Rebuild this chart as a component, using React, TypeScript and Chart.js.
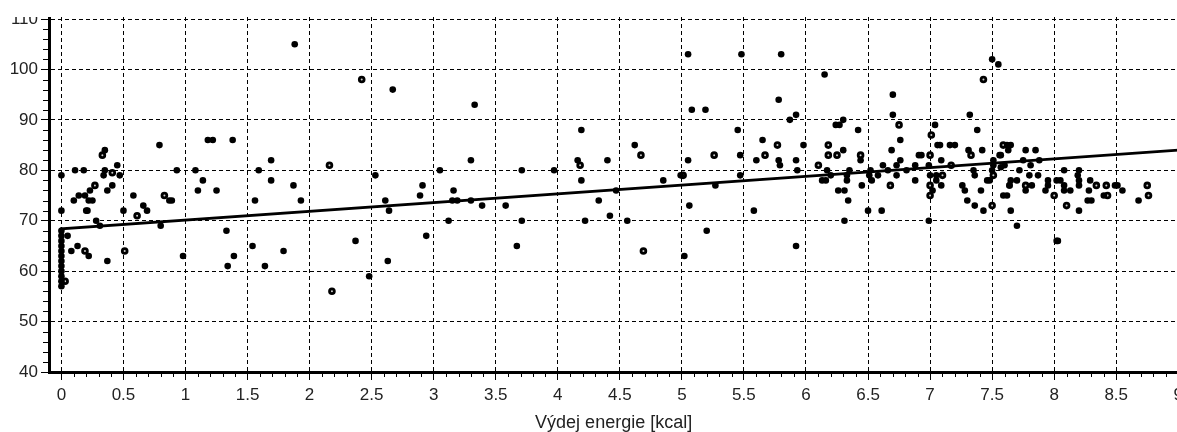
import React, { useEffect, useRef } from "react";
import { Chart, registerables } from "chart.js";

Chart.register(...registerables);

const xTickValues = [0, 0.5, 1, 1.5, 2, 2.5, 3, 3.5, 4, 4.5, 5, 5.5, 6, 6.5, 7, 7.5, 8, 8.5, 9];
const yTickValues = [40, 50, 60, 70, 80, 90, 100, 110];
const xTitle = "Výdej energie [kcal]";

const trendLine: [number, number][] = [[0, 57], [0, 68.4], [9, 84]];

const solidPoints: [number, number][] = [
  [0, 79], [0, 72], [0, 68], [0, 67], [0, 66], [0, 65], [0, 64], [0, 63], [0, 62], [0, 61], [0, 60], [0, 59], [0, 58], [0, 57],
  [0.11, 80], [0.18, 80], [0.35, 84], [0.35, 80], [0.34, 79], [0.47, 79], [0.45, 81], [0.41, 77], [0.37, 76], [0.23, 76],
  [0.19, 75], [0.14, 75], [0.1, 74], [0.22, 74], [0.25, 74], [0.2, 72], [0.21, 72], [0.28, 70], [0.31, 69], [0.5, 72],
  [0.66, 73], [0.69, 72], [0.58, 75], [0.79, 85], [0.87, 74], [0.89, 74], [0.93, 80], [1.08, 80], [1.14, 78], [1.1, 76],
  [1.25, 76], [1.18, 86], [1.22, 86], [1.38, 86], [1.59, 80], [1.69, 82], [1.69, 78], [1.56, 74], [1.87, 77], [1.93, 74],
  [0.8, 69], [1.33, 68], [1.54, 65], [1.79, 64], [1.39, 63], [1.34, 61], [1.64, 61], [0.98, 63], [0.37, 62], [0.22, 63],
  [0.13, 65], [0.08, 64], [0.05, 67],
  [1.88, 105], [2.67, 96], [3.33, 93], [2.53, 79], [3.05, 80], [3.3, 82], [3.71, 80], [3.97, 80], [4.19, 88], [4.16, 82],
  [4.19, 78], [4.33, 74], [2.91, 77], [2.89, 75], [3.16, 76], [2.61, 74], [2.64, 72], [3.15, 74], [3.19, 74], [3.39, 73],
  [3.58, 73], [3.12, 70], [3.71, 70], [4.22, 70], [2.94, 67], [2.37, 66], [3.67, 65], [2.63, 62], [2.48, 59],
  [5.05, 103], [5.48, 103], [5.8, 103], [6.15, 99], [5.78, 94], [5.08, 92], [5.19, 92], [5.92, 91], [5.87, 90], [6.24, 89],
  [5.45, 88], [5.65, 86], [4.62, 85], [5.98, 85], [5.47, 83], [4.4, 82], [5.05, 82], [5.6, 82], [5.78, 82], [5.92, 82],
  [5.79, 81], [5.93, 80], [6.17, 80], [5.47, 79], [4.85, 78], [5.27, 77], [4.47, 76], [6.31, 76], [6.13, 78], [6.16, 78],
  [5.06, 73], [5.58, 72], [4.42, 71], [4.56, 70], [5.2, 68], [5.92, 65], [5.02, 63], [4.99, 79], [3.3, 74],
  [7.5, 102], [7.55, 101], [6.7, 95], [6.7, 91], [6.3, 90], [6.27, 89], [7.04, 89], [6.42, 88], [7.32, 91], [7.38, 88],
  [6.76, 86], [7.06, 85], [7.08, 85], [7.16, 85], [7.2, 85], [7.62, 85], [6.3, 84], [6.44, 82], [6.69, 84], [6.91, 83],
  [6.93, 83], [7.31, 84], [7.42, 84], [7.57, 83], [6.76, 82], [7.09, 82], [7.51, 82], [6.62, 81], [6.73, 81], [6.88, 81],
  [6.99, 81], [7.6, 81], [6.35, 80], [6.52, 80], [6.66, 80], [6.81, 80], [7.35, 80], [7.5, 80], [6.33, 79], [6.51, 79],
  [6.58, 79], [6.73, 79], [7, 79], [7.05, 79], [7.36, 79], [6.2, 79], [6.33, 78], [6.53, 78], [6.88, 78], [7.05, 78],
  [7.46, 78], [7.48, 78], [6.45, 77], [6.26, 76], [7.09, 77], [7.26, 77], [7.64, 77], [7.02, 76], [7.28, 76], [7.41, 76],
  [7.59, 75], [7.62, 75], [6.34, 74], [7.3, 74], [7.36, 73], [6.5, 72], [6.61, 72], [7.43, 72], [7.65, 72], [6.31, 70], [6.99, 70],
  [7.65, 85], [7.63, 84], [7.77, 84], [7.85, 84], [7.56, 83], [7.75, 82], [7.88, 82], [7.51, 81], [7.57, 80.6], [7.72, 80],
  [7.81, 81], [8.08, 80], [8.2, 80], [7.8, 79], [7.87, 79], [8.19, 79], [8.2, 78], [7.65, 78], [7.7, 78], [7.95, 78],
  [8.02, 78], [8.05, 78], [8.29, 78], [7.64, 77], [7.82, 77], [7.95, 77], [8.08, 77], [8.2, 77], [8.49, 77], [8.51, 77],
  [7.77, 76], [7.93, 76], [8.08, 76], [8.13, 76], [8.28, 76], [8.55, 76], [8.4, 75], [8.27, 74], [8.3, 74], [8.68, 74],
  [8.2, 72], [7.7, 69], [8.03, 66], [8.02, 66],
];

const ringedPoints: [number, number][] = [
  [0.33, 83], [0.41, 79.5], [0.27, 77], [0.61, 71], [0.83, 75], [0.51, 64], [0.19, 64], [0.03, 58],
  [2.42, 98], [2.16, 81], [4.18, 81], [2.18, 56],
  [4.67, 83], [5.77, 85], [6.18, 85], [6.18, 83], [6.25, 83], [5.26, 83], [5.67, 83], [6.1, 81], [5.01, 79], [4.69, 64],
  [7.43, 98], [6.75, 89], [7.01, 87], [7.59, 85], [6.44, 83], [7, 83], [7.33, 83], [7.17, 81], [7.1, 79], [7.51, 79],
  [6.68, 77], [7, 77], [7, 75],
  [7.77, 77], [8.34, 77], [8.42, 77], [8.75, 77], [8, 75], [8.43, 75], [8.76, 75], [8.1, 73], [7.5, 73],
];

const toXY = (rows: [number, number][]) => rows.map(([x, y]) => ({ x, y }));

const axisExtras = {
  id: "axisExtras",
  afterDatasetsDraw(chart: any) {
    const { ctx, scales, chartArea } = chart;
    ctx.save();
    ctx.strokeStyle = "#000";
    ctx.lineWidth = 1;
    ctx.beginPath();
    for (let i = 0; i < xTickValues.length - 1; i++) {
      for (let k = 1; k < 5; k++) {
        const px = Math.round(scales.x.getPixelForValue(xTickValues[i] + (k * 0.5) / 5)) + 0.5;
        ctx.moveTo(px, chartArea.bottom);
        ctx.lineTo(px, chartArea.bottom + 5);
      }
    }
    for (let i = 0; i < yTickValues.length - 1; i++) {
      for (let k = 1; k < 5; k++) {
        const py = Math.round(scales.y.getPixelForValue(yTickValues[i] + k * 2)) + 0.5;
        ctx.moveTo(chartArea.left, py);
        ctx.lineTo(chartArea.left - 6, py);
      }
    }
    ctx.stroke();
    ctx.restore();
  },
  afterDraw(chart: any) {
    const { ctx, width } = chart;
    ctx.save();
    ctx.fillStyle = "#fff";
    ctx.fillRect(0, 0, width, 17);
    ctx.restore();
  },
};

export default function App() {
  const ref = useRef<HTMLCanvasElement>(null);
  useEffect(() => {
    const tickFont = { family: "'Liberation Sans', Arial, sans-serif", size: 17 };
    const titleFont = { family: "'Liberation Sans', Arial, sans-serif", size: 18 };
    const chart = new Chart(ref.current as HTMLCanvasElement, {
      type: "scatter",
      plugins: [axisExtras],
      data: {
        datasets: [
          {
            label: "trend",
            data: toXY(trendLine),
            showLine: true,
            borderColor: "#000",
            borderWidth: 3,
            pointRadius: 0,
            tension: 0,
          },
          {
            label: "solid",
            data: toXY(solidPoints),
            pointStyle: "circle",
            pointRadius: 3.3,
            pointBorderWidth: 0,
            backgroundColor: "#000",
            borderColor: "#000",
          },
          {
            label: "ringed",
            data: toXY(ringedPoints),
            pointStyle: "circle",
            pointRadius: 2.4,
            pointBorderWidth: 2.8,
            backgroundColor: "#ccc",
            borderColor: "#000",
          },
        ],
      } as any,
      options: {
        responsive: false,
        animation: false,
        layout: { padding: { left: 0, right: 0, top: 17, bottom: 0 } },
        plugins: { legend: { display: false }, tooltip: { enabled: false }, title: { display: false } },
        scales: {
          x: {
            type: "linear",
            min: -0.1,
            max: 9,
            afterBuildTicks: (s: any) => {
              s.ticks = xTickValues.map((value) => ({ value }));
            },
            afterFit: (s: any) => {
              s.height = 60;
            },
            ticks: {
              autoSkip: false,
              maxRotation: 0,
              minRotation: 0,
              color: "#222",
              font: tickFont,
              padding: 5,
              callback: (v: any) => String(v),
            },
            grid: { color: "#000", lineWidth: 1, drawTicks: true, tickLength: 8, tickColor: "#000", tickWidth: 1, tickBorderDash: [] },
            border: { display: true, color: "#000", width: 3, dash: [4, 3] },
            title: { display: true, text: xTitle, color: "#222", font: titleFont, padding: { top: 0, bottom: -2 } },
          },
          y: {
            type: "linear",
            min: 40,
            max: 110.4,
            afterBuildTicks: (s: any) => {
              s.ticks = yTickValues.map((value) => ({ value }));
            },
            afterFit: (s: any) => {
              s.width = 49;
              s.paddingTop = 0;
              s.paddingBottom = 0;
            },
            ticks: { autoSkip: false, color: "#222", font: tickFont, padding: 3, callback: (v: any) => String(v) },
            grid: { color: "#000", lineWidth: 1, drawTicks: true, tickLength: 8, tickColor: "#000", tickWidth: 1, tickBorderDash: [] },
            border: { display: true, color: "#000", width: 3, dash: [4, 3] },
          },
        },
      },
    } as any);
    return () => chart.destroy();
  }, []);
  return (
    <div style={{ position: "absolute", left: 0, top: 0, width: 1177, height: 432, overflow: "hidden", background: "#fff" }}>
      <canvas ref={ref} width={1188} height={432} style={{ display: "block" }} />
    </div>
  );
}
